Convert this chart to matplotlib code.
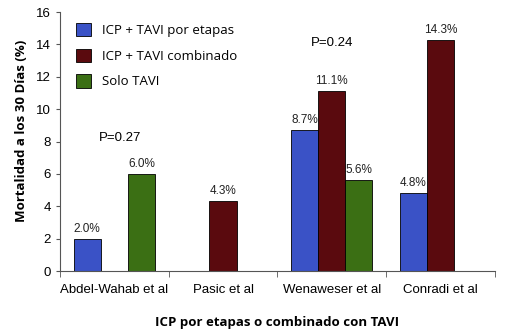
import numpy as np
import matplotlib.pyplot as plt
from matplotlib.patches import Patch

# datos
estudios = ['Abdel-Wahab et al', 'Pasic et al', 'Wenaweser et al', 'Conradi et al']
por_etapas = [2.0, np.nan, 8.7, 4.8]
combinado = [np.nan, 4.3, 11.1, 14.3]
solo_tavi = [6.0, np.nan, 5.6, np.nan]
series = ['ICP + TAVI por etapas', 'ICP + TAVI combinado', 'Solo TAVI']
colores = ['#3a52c6', '#5a0a0e', '#3b6f14']

fig = plt.figure(figsize=(5.06, 3.35), dpi=100)
ax = fig.add_axes([0.1186, 0.191, 0.859, 0.773])

x = np.arange(len(estudios))
w = 0.25
for i, (vals, c) in enumerate(zip([por_etapas, combinado, solo_tavi], colores)):
    pos = x + (i - 1) * w
    ax.bar(pos, vals, width=w, color=c, edgecolor='black', linewidth=0.6)
    for p, v in zip(pos, vals):
        if not np.isnan(v):
            ax.text(p, v + 0.25, f'{v:.1f}%', ha='center', va='bottom',
                    fontsize=8.5, family='Liberation Sans', color='#222222')

ax.set_xlim(-0.5, 3.5)
ax.set_ylim(0, 16)
ax.set_yticks(range(0, 17, 2))
ax.set_xticks(x)
ax.set_xticklabels(estudios, family='Liberation Sans', fontsize=9.5)
ax.set_xticks(np.arange(-0.5, 4, 1), minor=True)
ax.tick_params(axis='x', which='major', length=0, pad=9)
ax.tick_params(axis='x', which='minor', length=4, color='#555555')
ax.tick_params(axis='y', length=3, color='#555555', labelsize=9.5)
for lab in ax.get_yticklabels():
    lab.set_family('Liberation Sans')
for s in ['top', 'right']:
    ax.spines[s].set_visible(False)
for s in ['left', 'bottom']:
    ax.spines[s].set_color('#555555')

ax.text(0.05, 8.2, 'P=0.27', ha='center', va='center', fontsize=9.5, family='Liberation Sans')
ax.text(2.0, 14.1, 'P=0.24', ha='center', va='center', fontsize=9.5, family='Liberation Sans')

handles = [Patch(facecolor=c, edgecolor='black', linewidth=0.6) for c in colores]
ax.legend(handles, series, loc='upper left', bbox_to_anchor=(0.01, 1.005), frameon=False,
          prop={'family': 'Open Sans', 'size': 9.5}, handlelength=1.15, handleheight=1.15,
          labelspacing=0.9, handletextpad=0.8)

ax.set_ylabel('Mortalidad a los 30 Días (%)', fontsize=9.5, fontweight='bold',
              family='Open Sans')
ax.yaxis.set_label_coords(-0.074, 0.54)
fig.text(0.547, 0.037, 'ICP por etapas o combinado con TAVI', ha='center', va='center',
         fontsize=9.5, fontweight='bold', family='Open Sans')

fig.savefig('out.png', dpi=100)
